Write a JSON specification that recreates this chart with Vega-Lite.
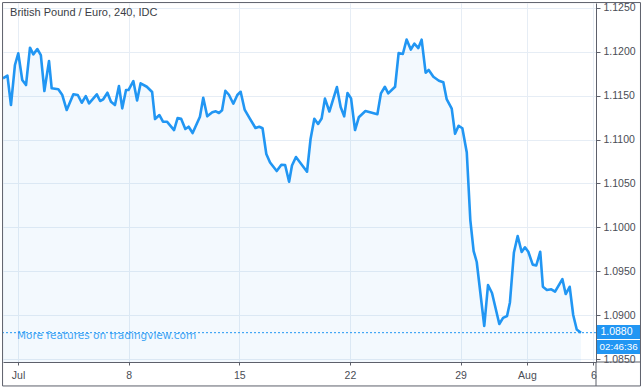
{
  "$schema": "https://vega.github.io/schema/vega-lite/v6.json",
  "width": 593,
  "height": 359,
  "autosize": "none",
  "padding": {"left": 3, "top": 3, "right": 46, "bottom": 26},
  "background": "white",
  "config": {"view": {"stroke": null}, "font": "Liberation Sans"},
  "data": {"values": [{}]},
  "datasets": {
    "price": [
      {"t":-0.68,"v":1.11697},{"t":-0.48,"v":1.11727},{"t":-0.32,"v":1.11393},{"t":-0.14,"v":1.11849},{"t":0.01,"v":1.11982},
      {"t":0.19,"v":1.11678},{"t":0.36,"v":1.11621},{"t":0.54,"v":1.12046},{"t":0.69,"v":1.1197},{"t":0.87,"v":1.12031},
      {"t":1.03,"v":1.11962},{"t":1.19,"v":1.11552},{"t":1.4,"v":1.11894},{"t":1.52,"v":1.11583},{"t":1.82,"v":1.11572},
      {"t":2.0,"v":1.11507},{"t":2.2,"v":1.11336},{"t":2.5,"v":1.11515},{"t":2.7,"v":1.11507},{"t":2.88,"v":1.11419},
      {"t":3.06,"v":1.11495},{"t":3.21,"v":1.11412},{"t":3.56,"v":1.11515},{"t":3.71,"v":1.11439},{"t":3.85,"v":1.11458},
      {"t":4.04,"v":1.11533},{"t":4.2,"v":1.11431},{"t":4.38,"v":1.11393},{"t":4.56,"v":1.11609},{"t":4.71,"v":1.11355},
      {"t":4.88,"v":1.11564},{"t":4.99,"v":1.11564},{"t":5.21,"v":1.11666},{"t":5.38,"v":1.11444},{"t":5.54,"v":1.1164},
      {"t":5.82,"v":1.11601},{"t":6.06,"v":1.11541},{"t":6.19,"v":1.11233},{"t":6.39,"v":1.11279},{"t":6.55,"v":1.11203},
      {"t":6.73,"v":1.11203},{"t":7.05,"v":1.11108},{"t":7.21,"v":1.11245},{"t":7.37,"v":1.11236},{"t":7.56,"v":1.1112},
      {"t":7.71,"v":1.11146},{"t":7.89,"v":1.11074},{"t":8.22,"v":1.1126},{"t":8.37,"v":1.11475},{"t":8.55,"v":1.11264},
      {"t":8.78,"v":1.1131},{"t":8.94,"v":1.11321},{"t":9.08,"v":1.11302},{"t":9.22,"v":1.11333},{"t":9.37,"v":1.11555},
      {"t":9.53,"v":1.1151},{"t":9.73,"v":1.11408},{"t":9.91,"v":1.11507},{"t":10.06,"v":1.11544},{"t":10.24,"v":1.11341},
      {"t":10.47,"v":1.11241},{"t":10.73,"v":1.11131},{"t":10.9,"v":1.11146},{"t":11.05,"v":1.11128},{"t":11.22,"v":1.10835},
      {"t":11.39,"v":1.10738},{"t":11.69,"v":1.10641},{"t":11.9,"v":1.10713},{"t":12.07,"v":1.1071},{"t":12.25,"v":1.10519},
      {"t":12.38,"v":1.10704},{"t":12.56,"v":1.10801},{"t":13.06,"v":1.10633},{"t":13.22,"v":1.11006},{"t":13.39,"v":1.11237},
      {"t":13.56,"v":1.11177},{"t":13.72,"v":1.11239},{"t":13.87,"v":1.11466},{"t":14.07,"v":1.11319},{"t":14.41,"v":1.11598},
      {"t":14.58,"v":1.1137},{"t":14.74,"v":1.11264},{"t":14.89,"v":1.1153},{"t":15.05,"v":1.11469},{"t":15.23,"v":1.11108},
      {"t":15.4,"v":1.11253},{"t":15.7,"v":1.11325},{"t":16.24,"v":1.11288},{"t":16.4,"v":1.11526},{"t":16.58,"v":1.11601},
      {"t":16.73,"v":1.11526},{"t":17.04,"v":1.11601},{"t":17.2,"v":1.11985},{"t":17.39,"v":1.11974},{"t":17.56,"v":1.12138},
      {"t":17.75,"v":1.12025},{"t":17.91,"v":1.12092},{"t":18.09,"v":1.12042},{"t":18.24,"v":1.12138},{"t":18.42,"v":1.11761},
      {"t":18.56,"v":1.11792},{"t":18.77,"v":1.11715},{"t":19.02,"v":1.1167},{"t":19.22,"v":1.11652},{"t":19.37,"v":1.11461},
      {"t":19.6,"v":1.11352},{"t":19.75,"v":1.11065},{"t":19.91,"v":1.11157},{"t":20.08,"v":1.11128},{"t":20.28,"v":1.10852},
      {"t":20.44,"v":1.10083},{"t":20.59,"v":1.0973},{"t":20.73,"v":1.09605},{"t":21.07,"v":1.08876},{"t":21.24,"v":1.09343},
      {"t":21.42,"v":1.09252},{"t":21.75,"v":1.08899},{"t":21.92,"v":1.08969},{"t":22.1,"v":1.0899},{"t":22.23,"v":1.09144},
      {"t":22.41,"v":1.09713},{"t":22.58,"v":1.09901},{"t":22.76,"v":1.09719},{"t":22.91,"v":1.09772},{"t":23.06,"v":1.09722},
      {"t":23.26,"v":1.09575},{"t":23.42,"v":1.09565},{"t":23.6,"v":1.09722},{"t":23.72,"v":1.09323},{"t":23.9,"v":1.09286},
      {"t":24.1,"v":1.09294},{"t":24.27,"v":1.09267},{"t":24.6,"v":1.09411},{"t":24.75,"v":1.0924},{"t":24.93,"v":1.09323},
      {"t":25.09,"v":1.09001},{"t":25.25,"v":1.08836},{"t":25.44,"v":1.0880}
    ]
  },
  "layer": [
    {
      "data": {"name": "price"},
      "mark": {"type": "area", "clip": true, "fill": "#2196f3", "fillOpacity": 0.055},
      "encoding": {
        "x": {"field": "t", "type": "quantitative",
          "scale": {"domain": [-0.68, 26.12], "nice": false, "zero": false},
          "axis": {"orient": "bottom", "title": null, "values": [0, 5, 10, 15, 20, 23, 26],
            "labelExpr": "datum.value == 0 ? 'Jul' : datum.value == 5 ? '8' : datum.value == 10 ? '15' : datum.value == 15 ? '22' : datum.value == 20 ? '29' : datum.value == 23 ? 'Aug' : '6'",
            "grid": true, "gridColor": "#e6edf5", "gridWidth": 1,
            "domainColor": "#5d606b", "tickColor": "#5d606b", "tickSize": 3,
            "labelColor": "#4a4d55", "labelFontSize": 10.5, "labelPadding": 5,
            "labelFlush": false, "labelBound": false, "labelOverlap": false}},
        "y": {"field": "v", "type": "quantitative",
          "scale": {"domain": [1.08466, 1.12555], "nice": false, "zero": false},
          "axis": {"orient": "right", "title": null,
            "values": [1.085, 1.09, 1.095, 1.1, 1.105, 1.11, 1.115, 1.12, 1.125],
            "format": ".4f", "grid": true, "gridColor": "#e6edf5", "gridWidth": 1,
            "domainColor": "#5d606b", "tickColor": "#5d606b", "tickSize": 4,
            "labelColor": "#4a4d55", "labelFontSize": 10.5, "labelPadding": 3,
            "labelFlush": false, "labelBound": false, "labelOverlap": false}}
      }
    },
    {
      "data": {"name": "price"},
      "mark": {"type": "line", "clip": true, "color": "#2196f3", "strokeWidth": 2.6, "strokeJoin": "round"},
      "encoding": {
        "x": {"field": "t", "type": "quantitative"},
        "y": {"field": "v", "type": "quantitative"}
      }
    },
    {
      "mark": {"type": "rule", "color": "#2196f3", "strokeDash": [2, 2], "strokeWidth": 1},
      "encoding": {"y": {"datum": 1.088}}
    },
    {
      "mark": {"type": "text", "text": "British Pound / Euro, 240, IDC", "align": "left", "baseline": "middle", "font": "Liberation Sans", "fontSize": 11, "color": "#3a3d45"},
      "encoding": {"x": {"datum": -0.36}, "y": {"datum": 1.12441}}
    },
    {
      "mark": {"type": "text", "text": "More features on tradingview.com", "align": "left", "baseline": "middle", "font": "DejaVu Sans", "fontSize": 10.5, "color": "#2196f3", "opacity": 0.85},
      "encoding": {"x": {"datum": -0.05}, "y": {"datum": 1.08765}}
    },
    {
      "mark": {"type": "rect", "color": "#2196f3"},
      "encoding": {"x": {"datum": 26.16}, "x2": {"datum": 28.11}, "y": {"datum": 1.08887}, "y2": {"datum": 1.08728}}
    },
    {
      "mark": {"type": "rect", "color": "#2196f3"},
      "encoding": {"x": {"datum": 26.16}, "x2": {"datum": 28.11}, "y": {"datum": 1.08716}, "y2": {"datum": 1.08557}}
    },
    {
      "mark": {"type": "text", "text": "1.0880", "align": "left", "baseline": "middle", "fontSize": 10.5, "color": "white"},
      "encoding": {"x": {"datum": 26.32}, "y": {"datum": 1.08807}}
    },
    {
      "mark": {"type": "text", "text": "02:46:36", "align": "left", "baseline": "middle", "fontSize": 9.8, "color": "white"},
      "encoding": {"x": {"datum": 26.28}, "y": {"datum": 1.08637}}
    },
    {
      "mark": {"type": "rect", "filled": false, "color": "#5d606b", "strokeWidth": 1},
      "encoding": {"x": {"datum": -0.7}, "x2": {"datum": 28.13}, "y": {"datum": 1.1256}, "y2": {"datum": 1.08193}}
    },
    {
      "mark": {"type": "rule", "color": "#5d606b", "strokeWidth": 1},
      "encoding": {"x": {"datum": 26.12}, "y": {"datum": 1.08466}, "y2": {"datum": 1.08193}}
    },
    {
      "mark": {"type": "rule", "color": "#5d606b", "strokeWidth": 1},
      "encoding": {"x": {"datum": 26.12}, "x2": {"datum": 28.13}, "y": {"datum": 1.08466}}
    }
  ]
}
